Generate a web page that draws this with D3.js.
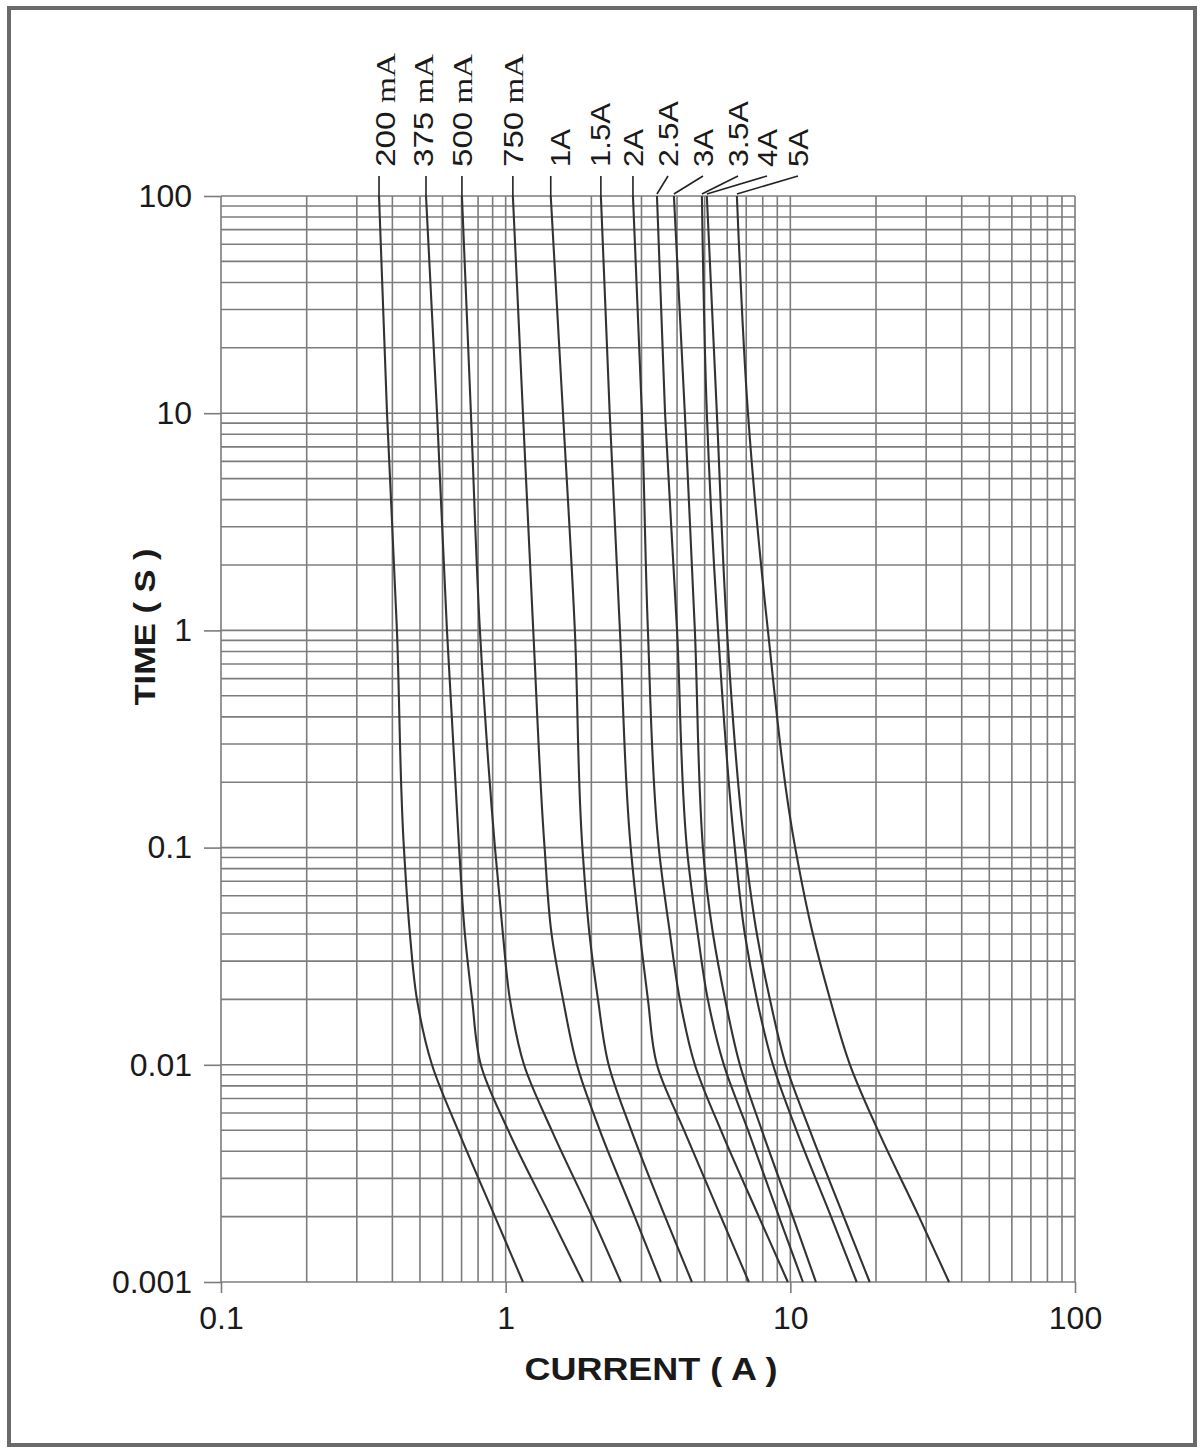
<!DOCTYPE html>
<html lang="en">
<head>
    <title>Time-current curves</title>
    <meta charset="utf-8"/>
    <script src="https://d3js.org/d3.v7.min.js"></script>
    <style>
        body { margin: 0; background: #fff; }
        svg { display: block; }
        text { font-family: "Liberation Sans", Arial, sans-serif; fill: #1a1a1a; }
        .grid line { stroke: #7c7c7c; stroke-width: 1.6; }
        .axis line { stroke: #7c7c7c; stroke-width: 1.6; }
        .axis path { display: none; }
        .axis text { font-size: 32px; fill: #1a1a1a; }
        .curve { fill: none; stroke: #333; stroke-width: 2.1; }
        .leader { stroke: #222; stroke-width: 1.6; }
    </style>
</head>
<body>
<svg id="chart" width="1204" height="1450"></svg>
<script>
    // fuse ratings (one curve each)
    const ratings = ["200 mA", "375 mA", "500 mA", "750 mA", "1A", "1.5A", "2A", "2.5A", "3A", "3.5A", "4A", "5A"];

    const times = [100, 10, 1, 0.1, 0.04, 0.02, 0.01, 0.005, 0.002, 0.001];

    // current (A) at each time
    const i200mA = [0.359, 0.383, 0.415, 0.439, 0.461, 0.488, 0.551, 0.680, 0.917, 1.15];
    const i375mA = [0.525, 0.574, 0.622, 0.686, 0.719, 0.762, 0.818, 1.02, 1.44, 1.87];
    const i500mA = [0.702, 0.755, 0.812, 0.917, 0.978, 1.035, 1.16, 1.45, 2.01, 2.54];
    const i750mA = [1.06, 1.15, 1.25, 1.37, 1.45, 1.59, 1.78, 2.14, 2.84, 3.51];
    const i1A = [1.44, 1.59, 1.75, 1.86, 1.97, 2.11, 2.30, 2.76, 3.63, 4.51];
    const i1_5A = [2.16, 2.32, 2.52, 2.75, 2.96, 3.16, 3.40, 4.23, 5.70, 7.15];
    const i2A = [2.80, 3.01, 3.16, 3.45, 3.78, 4.09, 4.62, 5.70, 7.75, 9.80];
    const i2_5A = [3.40, 3.63, 4.00, 4.33, 4.73, 5.13, 5.84, 7.10, 9.12, 11.07];
    const i3A = [3.90, 4.26, 4.62, 4.93, 5.35, 5.90, 6.65, 7.94, 10.2, 12.3];
    const i3_5A = [4.89, 5.09, 5.57, 6.38, 6.92, 7.63, 8.69, 10.5, 13.9, 17.1];
    const i4A = [5.09, 5.52, 5.99, 6.92, 7.63, 8.48, 9.64, 11.7, 15.4, 19.0];
    const i5A = [6.49, 7.10, 8.34, 10.4, 12.0, 13.8, 16.2, 20.3, 28.3, 36.1];

    const currents = [i200mA, i375mA, i500mA, i750mA, i1A, i1_5A, i2A, i2_5A, i3A, i3_5A, i4A, i5A];

    // ticks
    const xTicks = [0.1, 1, 10, 100];
    const xTickLabels = ["0.1", "1", "10", "100"];
    const yTicks = [100, 10, 1, 0.1, 0.01, 0.001];
    const yTickLabels = ["100", "10", "1", "0.1", "0.01", "0.001"];

    // rotated label layout (baseline x, length along text)
    const labelX = [395, 433, 472, 523, 570, 610, 643, 678, 713, 748, 777, 808];
    const labelLen = [114, 113, 113, 113, 38, 64, 38, 66, 38, 66, 38, 38];

    const svg = d3.select("#chart");

    const x = d3.scaleLog().domain([0.1, 100]).range([221, 1075]);
    const y = d3.scaleLog().domain([100, 0.001]).range([196, 1282]);

    // marco
    svg.append("rect")
        .attr("x", 9).attr("y", 8)
        .attr("width", 1186).attr("height", 1437)
        .attr("fill", "none")
        .attr("stroke", "#6a6a6a")
        .attr("stroke-width", 4);

    // grilla
    const grid = svg.append("g").attr("class", "grid");
    grid.selectAll("line.v")
        .data(x.ticks()).enter()
        .append("line")
        .attr("class", "v")
        .attr("x1", d => x(d)).attr("x2", d => x(d))
        .attr("y1", y.range()[0]).attr("y2", y.range()[1]);
    grid.selectAll("line.h")
        .data(y.ticks()).enter()
        .append("line")
        .attr("class", "h")
        .attr("y1", d => y(d)).attr("y2", d => y(d))
        .attr("x1", x.range()[0]).attr("x2", x.range()[1]);

    // ejes
    svg.append("g")
        .attr("class", "axis")
        .attr("transform", "translate(0,1282)")
        .call(d3.axisBottom(x).tickValues(xTicks)
            .tickFormat((d, i) => xTickLabels[i])
            .tickSize(11).tickPadding(13));

    svg.append("g")
        .attr("class", "axis")
        .attr("transform", "translate(221,0)")
        .call(d3.axisLeft(y).tickValues(yTicks)
            .tickFormat((d, i) => yTickLabels[i])
            .tickSize(17).tickPadding(12));

    // curvas
    const line = d3.line()
        .x(d => x(d[0]))
        .y(d => y(d[1]))
        .curve(d3.curveMonotoneY);

    svg.selectAll("path.curve")
        .data(currents).enter()
        .append("path")
        .attr("class", "curve")
        .attr("d", c => line(c.map((v, i) => [v, times[i]])));

    // etiquetas arriba
    const labels = svg.selectAll("g.label")
        .data(ratings).enter()
        .append("g")
        .attr("class", "label");

    labels.append("line")
        .attr("class", "leader")
        .each(function (d, i) {
            const top = x(currents[i][0]);
            const lx = labelX[i] - 10;
            const straight = Math.abs(lx - top) <= 10;
            d3.select(this)
                .attr("x1", straight ? top : lx).attr("y1", 176)
                .attr("x2", top).attr("y2", straight ? 196 : 194);
        });

    labels.append("text")
        .attr("transform", (d, i) => `translate(${labelX[i]},167) rotate(-90)`)
        .attr("font-size", 28)
        .attr("textLength", (d, i) => labelLen[i])
        .attr("lengthAdjust", "spacingAndGlyphs")
        .each(function (d) {
            const t = d3.select(this);
            if (d.endsWith("mA")) {
                t.append("tspan").text(d.replace(" mA", ""));
                t.append("tspan")
                    .style("font-family", "'Liberation Serif', serif")
                    .text(" mA");
            } else {
                t.text(d);
            }
        });

    // títulos de ejes
    svg.append("text")
        .attr("x", 651).attr("y", 1380)
        .attr("text-anchor", "middle")
        .attr("font-size", 31)
        .attr("font-weight", "bold")
        .attr("textLength", 253)
        .attr("lengthAdjust", "spacingAndGlyphs")
        .text("CURRENT ( A )");

    svg.append("text")
        .attr("transform", "translate(155,627) rotate(-90)")
        .attr("text-anchor", "middle")
        .attr("font-size", 30)
        .attr("font-weight", "bold")
        .attr("textLength", 157)
        .attr("lengthAdjust", "spacingAndGlyphs")
        .text("TIME ( S )");
</script>
</body>
</html>
